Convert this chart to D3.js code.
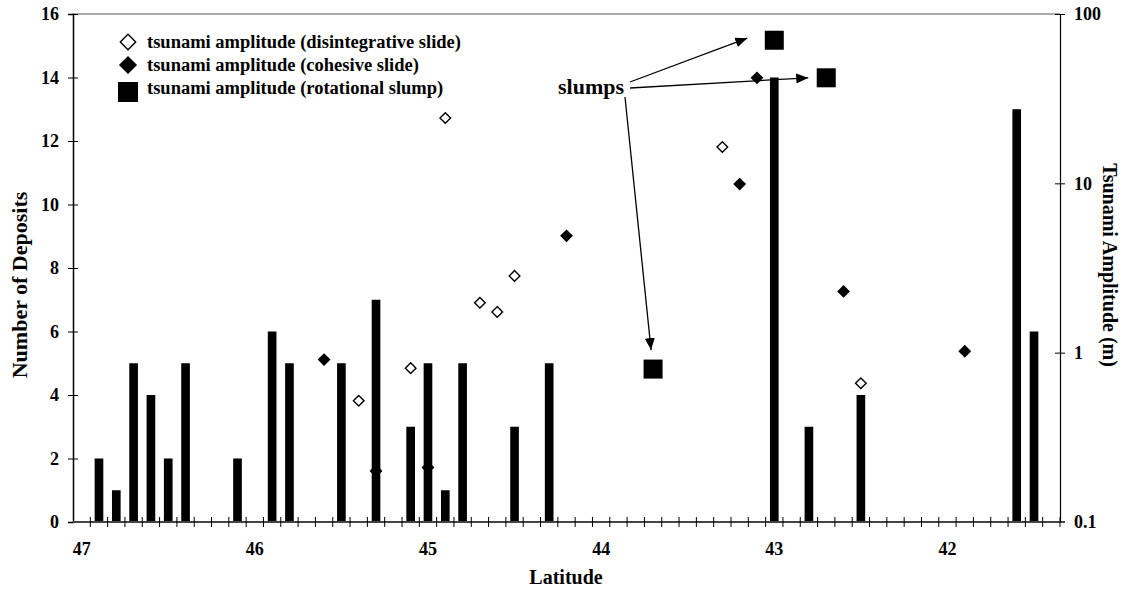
<!DOCTYPE html>
<html>
<head>
<meta charset="utf-8">
<title>Deposits and tsunami amplitude by latitude</title>
<script src="https://cdn.jsdelivr.net/npm/d3@7"></script>
<style>
  body { margin: 0; background: #fff; }
  svg text { font-family: "Liberation Serif", "Times New Roman", serif; font-weight: bold; fill: #000; }
</style>
</head>
<body>
<script>
// latitude bins (one bar slot per 0.1 degree, 47.0 down to 41.4)
var categories = d3.range(57).map(function (i) { return (47 - i / 10).toFixed(1); });
var xTickLabels = ["47", "46", "45", "44", "43", "42"];
var leftTicks = [0, 2, 4, 6, 8, 10, 12, 14, 16];
var rightTicks = [0.1, 1, 10, 100];

// number of deposits per bin
var depositLat   = [46.9, 46.8, 46.7, 46.6, 46.5, 46.4, 46.1, 45.9, 45.8, 45.5, 45.3, 45.1, 45.0, 44.9, 44.8, 44.5, 44.3, 43.0, 42.8, 42.5, 41.6, 41.5];
var depositCount = [2, 1, 5, 4, 2, 5, 2, 6, 5, 5, 7, 3, 5, 1, 5, 3, 5, 14, 3, 4, 13, 6];

// tsunami amplitude (m)
var disintLat = [45.4, 45.1, 44.9, 44.7, 44.6, 44.5, 43.3, 42.5];
var disintAmp = [0.52, 0.81, 24.3, 1.97, 1.74, 2.84, 16.4, 0.66];
var cohesLat  = [45.6, 45.3, 45.0, 44.2, 43.2, 43.1, 42.6, 41.9];
var cohesAmp  = [0.91, 0.20, 0.21, 4.9, 9.9, 42, 2.3, 1.02];
var slumpLat  = [43.7, 43.0, 42.7];
var slumpAmp  = [0.80, 70, 42];

var legendLabels = [
    "tsunami amplitude (disintegrative slide)",
    "tsunami amplitude (cohesive slide)",
    "tsunami amplitude (rotational slump)"
];

var w = 1126, h = 590,
    mLeft = 73, mRight = 1060, mTop = 14, mBottom = 522;

var svg = d3.select("body").append("svg")
    .attr("width", w)
    .attr("height", h);

var x = d3.scaleBand().domain(categories).range([mLeft, mRight]).padding(0);
var yLeft = d3.scaleLinear().domain([0, 16]).range([mBottom, mTop]);
var yRight = d3.scaleLog().domain([0.1, 100]).range([mBottom, mTop]);

function cx(lat) { return x(lat.toFixed(1)) + x.bandwidth() / 2; }

// plot area top border
svg.append("line")
    .attr("x1", mLeft).attr("x2", mRight)
    .attr("y1", mTop).attr("y2", mTop)
    .attr("stroke", "#aaa").attr("stroke-width", 2);

// scatter markers (drawn under the bars)
var diamond = d3.symbol().type(d3.symbolDiamond2);

var disint = disintLat.map(function (d, i) { return {lat: d, amp: disintAmp[i]}; });
var cohes = cohesLat.map(function (d, i) { return {lat: d, amp: cohesAmp[i]}; });
var slump = slumpLat.map(function (d, i) { return {lat: d, amp: slumpAmp[i]}; });

svg.append("g").selectAll("path")
    .data(cohes)
    .enter().append("path")
    .attr("d", diamond.size(105)())
    .attr("transform", function (d) { return "translate(" + cx(d.lat) + "," + yRight(d.amp) + ")"; })
    .attr("fill", "#000");

svg.append("g").selectAll("path")
    .data(disint)
    .enter().append("path")
    .attr("d", diamond.size(72)())
    .attr("transform", function (d) { return "translate(" + cx(d.lat) + "," + yRight(d.amp) + ")"; })
    .attr("fill", "#fff")
    .attr("stroke", "#000")
    .attr("stroke-width", 1.4);

// bars
var bars = depositLat.map(function (d, i) { return {lat: d, n: depositCount[i]}; });
svg.append("g").selectAll("rect")
    .data(bars)
    .enter().append("rect")
    .attr("x", function (d) { return x(d.lat.toFixed(1)) + x.bandwidth() / 4; })
    .attr("width", x.bandwidth() / 2)
    .attr("y", function (d) { return yLeft(d.n); })
    .attr("height", function (d) { return mBottom - yLeft(d.n); })
    .attr("fill", "#000");

// slump squares
var sq = 19;
svg.append("g").selectAll("rect")
    .data(slump)
    .enter().append("rect")
    .attr("x", function (d) { return cx(d.lat) - sq / 2; })
    .attr("y", function (d) { return yRight(d.amp) - sq / 2; })
    .attr("width", sq).attr("height", sq)
    .attr("fill", "#000");

// left axis
var gl = svg.append("g")
    .attr("transform", "translate(" + mLeft + ",0)")
    .call(d3.axisLeft(yLeft).tickValues(leftTicks).tickSize(5).tickPadding(9));
gl.select(".domain").attr("stroke", "#000").attr("stroke-width", 1.5);
gl.selectAll(".tick line").attr("x2", 5).attr("x1", -5).attr("stroke", "#000");
gl.selectAll(".tick text").style("font-size", "18px");

// right axis
var gr = svg.append("g")
    .attr("transform", "translate(" + mRight + ",0)")
    .call(d3.axisRight(yRight).tickValues(rightTicks).tickFormat(d3.format("")).tickSize(5).tickPadding(9));
gr.select(".domain").attr("stroke", "#000").attr("stroke-width", 1.2);
gr.selectAll(".tick line").attr("x1", -5).attr("x2", 5).attr("stroke", "#000");
gr.selectAll(".tick text").style("font-size", "18px");

// bottom axis: line, tick marks on bin edges, labels every degree
var gb = svg.append("g");
gb.append("line")
    .attr("x1", mLeft).attr("x2", mRight + 5)
    .attr("y1", mBottom).attr("y2", mBottom)
    .attr("stroke", "#444").attr("stroke-width", 2);
gb.selectAll("line.edge")
    .data(categories.slice(1).concat(["end"]))
    .enter().append("line")
    .attr("class", "edge")
    .attr("x1", function (d) { return d === "end" ? mRight : x(d); })
    .attr("x2", function (d) { return d === "end" ? mRight : x(d); })
    .attr("y1", mBottom - 5).attr("y2", mBottom + 5)
    .attr("stroke", "#000").attr("stroke-width", 1);
gb.selectAll("text")
    .data(xTickLabels)
    .enter().append("text")
    .attr("x", function (d) { return x((+d).toFixed(1)) + x.bandwidth() / 2; })
    .attr("y", 555)
    .attr("text-anchor", "middle")
    .style("font-size", "18px")
    .text(function (d) { return d; });

// axis titles
svg.append("text")
    .attr("transform", "translate(19,285) rotate(-90)")
    .attr("dy", "0.35em")
    .attr("text-anchor", "middle")
    .style("font-size", "22px")
    .text("Number of Deposits");
svg.append("text")
    .attr("transform", "translate(1110,265) rotate(90)")
    .attr("dy", "0.35em")
    .attr("text-anchor", "middle")
    .style("font-size", "20px")
    .text("Tsunami Amplitude (m)");
svg.append("text")
    .attr("x", 566).attr("y", 584)
    .attr("text-anchor", "middle")
    .style("font-size", "20px")
    .text("Latitude");

// legend
var lg = svg.append("g");
lg.append("path").attr("d", diamond.size(150)())
    .attr("transform", "translate(128,42)")
    .attr("fill", "#fff").attr("stroke", "#000").attr("stroke-width", 1.4);
lg.append("path").attr("d", diamond.size(210)())
    .attr("transform", "translate(128,65)")
    .attr("fill", "#000");
lg.append("rect").attr("x", 118).attr("y", 82).attr("width", 20).attr("height", 20).attr("fill", "#000");
lg.selectAll("text")
    .data(legendLabels)
    .enter().append("text")
    .attr("x", 147)
    .attr("y", function (d, i) { return 48 + i * 23; })
    .style("font-size", "18.5px")
    .text(function (d) { return d; });

// "slumps" annotation with arrows to each slump square
svg.append("defs").append("marker")
    .attr("id", "head")
    .attr("viewBox", "0 0 12 10")
    .attr("refX", 12).attr("refY", 5)
    .attr("markerWidth", 12).attr("markerHeight", 10)
    .attr("markerUnits", "userSpaceOnUse")
    .attr("orient", "auto")
  .append("path")
    .attr("d", "M0,0L12,5L0,10Z")
    .attr("fill", "#000");

var labX = 591, labY = 94;
svg.append("text")
    .attr("x", labX).attr("y", labY)
    .attr("text-anchor", "middle")
    .style("font-size", "22px")
    .text("slumps");

var arrows = [
    {x1: labX + 39, y1: labY - 12, x2: cx(slumpLat[1]) - 27, y2: yRight(slumpAmp[1]) - 2},
    {x1: labX + 39, y1: labY - 6,  x2: cx(slumpLat[2]) - 18, y2: yRight(slumpAmp[2])},
    {x1: labX + 34, y1: labY + 3,  x2: cx(slumpLat[0]) - 2,  y2: yRight(slumpAmp[0]) - 19}
];
svg.append("g").selectAll("line")
    .data(arrows)
    .enter().append("line")
    .attr("x1", function (d) { return d.x1; })
    .attr("y1", function (d) { return d.y1; })
    .attr("x2", function (d) { return d.x2; })
    .attr("y2", function (d) { return d.y2; })
    .attr("stroke", "#000").attr("stroke-width", 1.3)
    .attr("marker-end", "url(#head)");
</script>
</body>
</html>
